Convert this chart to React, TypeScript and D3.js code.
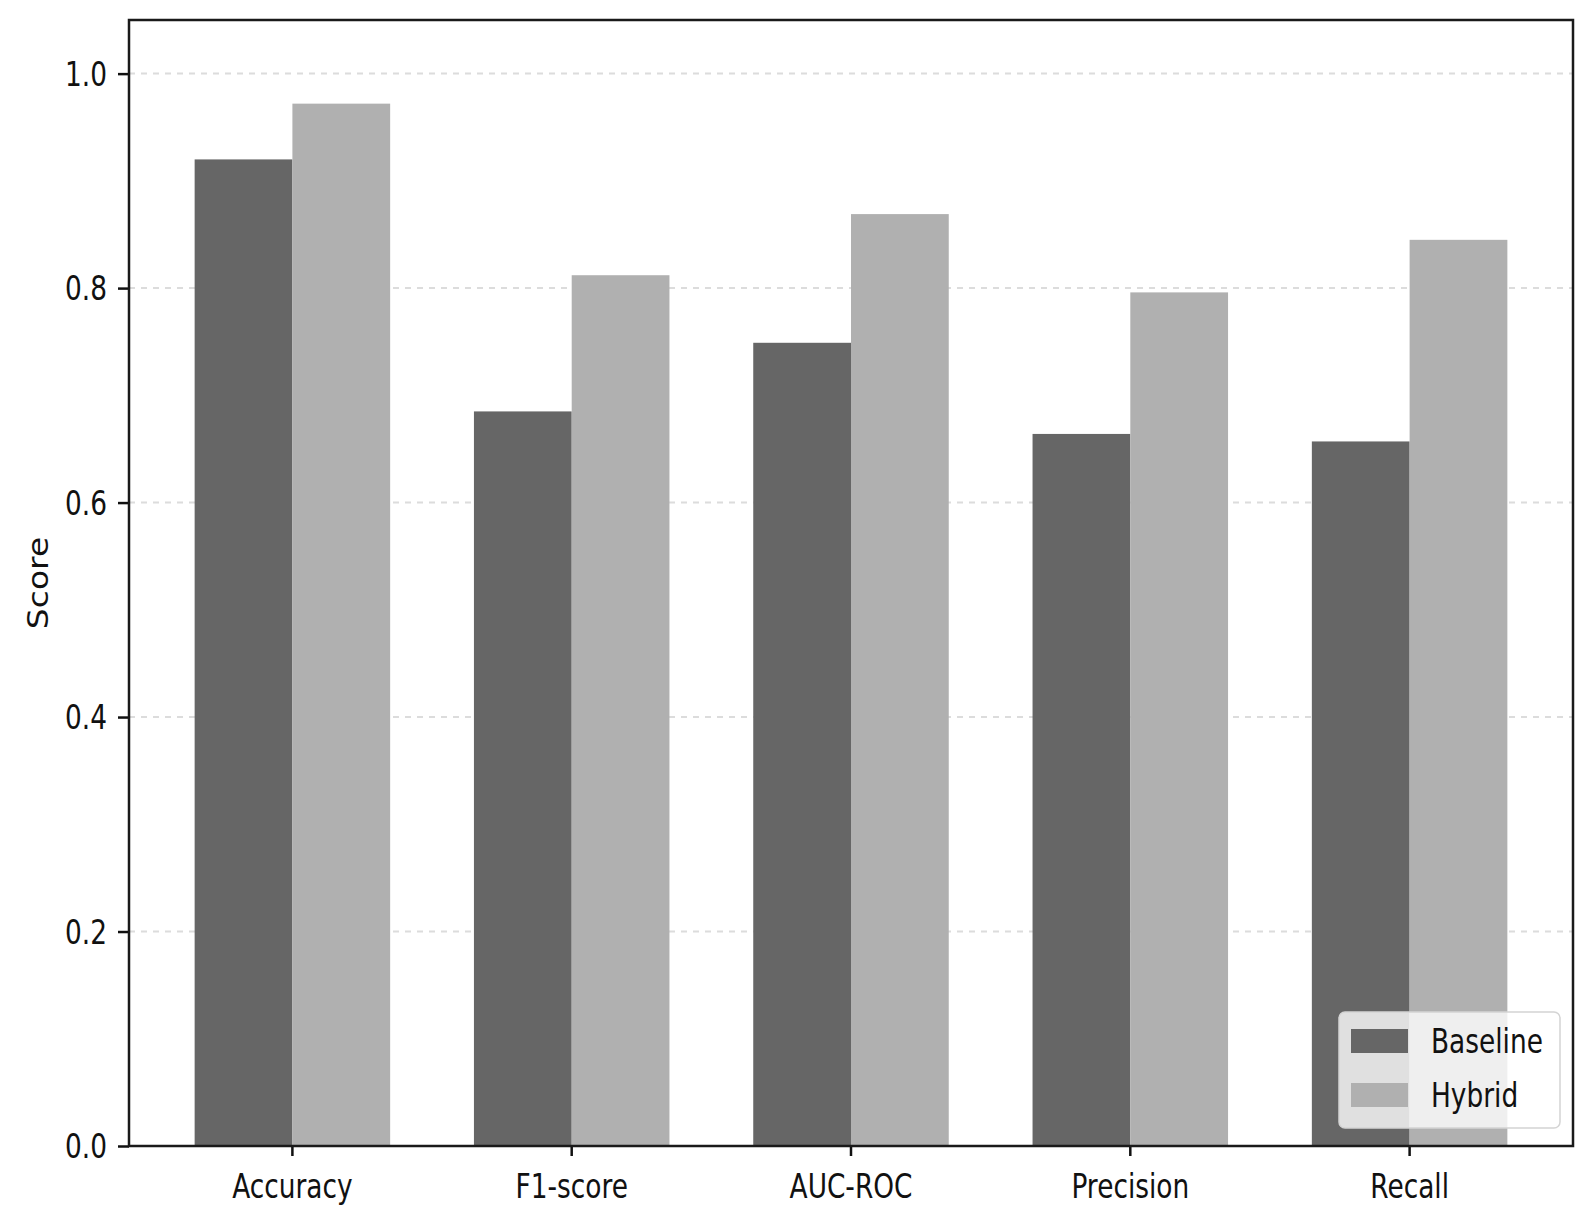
import React, { useEffect, useRef } from 'react';
import * as d3 from 'd3';

const categories = ['Accuracy', 'F1-score', 'AUC-ROC', 'Precision', 'Recall'];
const baselineScores = [0.920, 0.685, 0.749, 0.664, 0.657];
const hybridScores = [0.972, 0.812, 0.869, 0.796, 0.845];
const yTicks = [0.0, 0.2, 0.4, 0.6, 0.8, 1.0];
const seriesNames = ['Baseline', 'Hybrid'];
const seriesColors = ['#666666', '#b0b0b0'];

const FONT = '"DejaVu Sans", sans-serif';
const FONT_SIZE = 33;
const SQUEEZE = 0.8; // the original picture is squashed sideways

const App: React.FC = () => {
  const ref = useRef<SVGSVGElement>(null);

  useEffect(() => {
    if (!ref.current) return;
    const svg = d3.select(ref.current);
    svg.selectAll('*').remove();

    const W = 1593;
    const H = 1222;
    const margin = { top: 20, right: 20, bottom: 76, left: 129 };
    const innerW = W - margin.left - margin.right;
    const innerH = H - margin.top - margin.bottom;

    svg.attr('width', W).attr('height', H).style('font-family', FONT);

    const chart = svg.append('g').attr('transform', `translate(${margin.left},${margin.top})`);

    const x = d3.scaleBand<string>()
      .domain(categories)
      .range([0, innerW])
      .paddingInner(0)
      .paddingOuter(0.085);
    const barW = x.bandwidth() * 0.35;

    const y = d3.scaleLinear().domain([0, 1.05]).range([innerH, 0]);

    // dashed grid behind the bars
    chart.append('g')
      .selectAll('line')
      .data(yTicks.filter(t => t > 0))
      .join('line')
      .attr('x1', 0)
      .attr('x2', innerW)
      .attr('y1', d => y(d))
      .attr('y2', d => y(d))
      .attr('stroke', '#dcdcdc')
      .attr('stroke-width', 2)
      .attr('stroke-dasharray', '6,6');

    // bars
    const series = [baselineScores, hybridScores];
    series.forEach((vals, si) => {
      chart.append('g')
        .selectAll('rect')
        .data(vals)
        .join('rect')
        .attr('x', (_, i) => (x(categories[i]) ?? 0) + x.bandwidth() / 2 + (si === 0 ? -barW : 0))
        .attr('y', d => y(d))
        .attr('width', barW)
        .attr('height', d => innerH - y(d))
        .attr('fill', seriesColors[si]);
    });

    // y axis
    const yAxis = chart.append('g')
      .call(d3.axisLeft(y).tickValues(yTicks).tickFormat(d3.format('.1f')).tickSize(11));
    yAxis.select('.domain').remove();
    yAxis.selectAll('line').attr('stroke', '#111').attr('stroke-width', 2.5);
    yAxis.selectAll('text')
      .attr('x', 0)
      .attr('dy', '0.36em')
      .attr('transform', `translate(-22,0) scale(${SQUEEZE},1)`)
      .attr('fill', '#111')
      .style('font-size', `${FONT_SIZE}px`)
      .style('font-family', FONT);

    // x axis
    const xAxis = chart.append('g')
      .attr('transform', `translate(0,${innerH})`)
      .call(d3.axisBottom(x).tickSize(10));
    xAxis.select('.domain').remove();
    xAxis.selectAll('line').attr('stroke', '#111').attr('stroke-width', 2.5);
    xAxis.selectAll('text')
      .attr('y', 0)
      .attr('dy', 0)
      .attr('transform', `translate(0,52) scale(${SQUEEZE},1)`)
      .attr('fill', '#111')
      .style('font-size', `${FONT_SIZE}px`)
      .style('font-family', FONT);

    // frame
    chart.append('rect')
      .attr('width', innerW)
      .attr('height', innerH)
      .attr('fill', 'none')
      .attr('stroke', '#1a1a1a')
      .attr('stroke-width', 2.5);

    // y label
    svg.append('text')
      .attr('transform', `translate(48,${margin.top + innerH / 2}) rotate(-90) scale(1,0.85)`)
      .attr('text-anchor', 'middle')
      .attr('fill', '#111')
      .style('font-size', `${FONT_SIZE}px`)
      .text('Score');

    // legend
    const legend = chart.append('g').attr('transform', `translate(${innerW - 234},${innerH - 134})`);
    legend.append('rect')
      .attr('width', 221)
      .attr('height', 116)
      .attr('rx', 6)
      .attr('fill', '#ffffff')
      .attr('fill-opacity', 0.8)
      .attr('stroke', '#d4d4d4')
      .attr('stroke-width', 1.5);
    seriesNames.forEach((name, i) => {
      legend.append('rect')
        .attr('x', 12)
        .attr('y', 17 + i * 54)
        .attr('width', 57)
        .attr('height', 24)
        .attr('fill', seriesColors[i]);
      legend.append('text')
        .attr('transform', `translate(92,${41 + i * 54}) scale(${SQUEEZE},1)`)
        .attr('fill', '#111')
        .style('font-size', `${FONT_SIZE}px`)
        .text(name);
    });
  }, []);

  return (
    <>
      <style>{'body{margin:0;background:#fff}'}</style>
      <svg ref={ref} style={{ display: 'block' }} />
    </>
  );
};

export default App;
